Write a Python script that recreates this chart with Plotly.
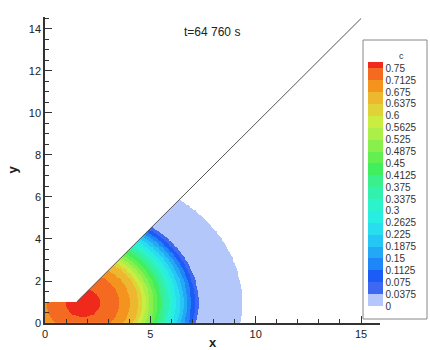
import numpy as np
import plotly.graph_objects as go

# Contour levels of concentration c and their legend labels
levels = [0.0, 0.0375, 0.075, 0.1125, 0.15, 0.1875, 0.225, 0.2625, 0.3, 0.3375,
          0.375, 0.4125, 0.45, 0.4875, 0.525, 0.5625, 0.6, 0.6375, 0.675, 0.7125, 0.75]
level_labels = ["0", "0.0375", "0.075", "0.1125", "0.15", "0.1875", "0.225", "0.2625",
                "0.3", "0.3375", "0.375", "0.4125", "0.45", "0.4875", "0.525", "0.5625",
                "0.6", "0.6375", "0.675", "0.7125", "0.75"]
# One colour per band, lowest band first, last entry is c >= 0.75
band_colors = ["#B4C7FA", "#3F68F2", "#1B5CF6", "#1E86F6", "#22A8F5", "#25C6F4",
               "#27DDEE", "#27EDE2", "#2CF3CC", "#32F1AE", "#3AF08C", "#41EF5E",
               "#63EF50", "#89EF4D", "#ABEF48", "#CBEC41", "#E2D23A", "#EDB72F",
               "#F5931F", "#F36A20", "#EF2A1C"]
c_top = 0.77

# Radial profile of c against (stretched) distance from the source
source_x, source_y = 1.8, 0.95
y_stretch = 1.5
profile_d = [0.0, 0.82, 1.74, 2.24, 2.64, 5.51, 7.58]
profile_c = [0.78, 0.75, 0.7125, 0.675, 0.6375, 0.0375, 0.002]
front_d = 7.58

# Domain geometry: low block of height 1, then the inclined wall
block_height = 1.0
wall_x = [1.5, 15.0]
wall_y = [1.0, 14.5]

# Field on a fine grid
xs = np.arange(0.02, 9.8, 0.04)
ys = np.arange(0.02, 6.5, 0.04)
X, Y = np.meshgrid(xs, ys)
D = np.sqrt((X - source_x) ** 2 + y_stretch * (Y - source_y) ** 2)
C = np.interp(D, profile_d, profile_c)
slope = (wall_y[1] - wall_y[0]) / (wall_x[1] - wall_x[0])
wall_at_x = wall_y[0] + slope * (X - wall_x[0])
outside = (Y > np.maximum(block_height, wall_at_x)) | (D > front_d)
C[outside] = np.nan

# Stepped colour scale, one flat step per band
colorscale = []
for i, col in enumerate(band_colors):
    lo = levels[i] / c_top
    hi = (levels[i + 1] if i + 1 < len(levels) else c_top) / c_top
    colorscale.append([lo, col])
    colorscale.append([hi, col])

font_family = "Liberation Sans, Arial, sans-serif"

fig = go.Figure()
fig.add_trace(go.Heatmap(
    x=xs, y=ys, z=C, zmin=0, zmax=c_top, colorscale=colorscale,
    zsmooth=False, hoverinfo="skip", showscale=True,
    colorbar=dict(
        lenmode="pixels", len=244, thickness=15,
        x=(368 - 45) / 335, xanchor="left", xpad=0,
        y=(323 - 62) / 306, yanchor="top", ypad=0,
        outlinewidth=0, ticks="",
        tickvals=levels, ticktext=level_labels,
        tickfont=dict(family=font_family, size=10, color="#333"),
    ),
))

fig.add_trace(go.Scatter(
    x=wall_x, y=wall_y, mode="lines",
    line=dict(color="#555555", width=1), hoverinfo="skip", showlegend=False,
))

axis_common = dict(
    showgrid=False, zeroline=False, showline=True, linecolor="#333",
    linewidth=1.5, ticks="inside", ticklen=7, tickwidth=1.2, tickcolor="#333",
    tickfont=dict(family=font_family, size=11, color="#222"),
    automargin=False,
)

fig.update_layout(
    width=430, height=350,
    margin=dict(l=45, r=50, t=17, b=27, autoexpand=False),
    paper_bgcolor="white", plot_bgcolor="rgba(0,0,0,0)",
    showlegend=False,
    xaxis=dict(range=[0, 15.9], tick0=0, dtick=5,
               minor=dict(dtick=1, ticks="inside", ticklen=4, tickcolor="#333"),
               title=dict(text="<b>x</b>", standoff=5,
                          font=dict(family=font_family, size=13, color="#222")),
               **axis_common),
    yaxis=dict(range=[0, 14.57], tick0=0, dtick=2,
               minor=dict(dtick=0.5, ticks="inside", ticklen=4, tickcolor="#333"),
               title=dict(text="<b>y</b>", standoff=8,
                          font=dict(family=font_family, size=13, color="#222")),
               **axis_common),
    shapes=[dict(type="rect", xref="paper", yref="paper",
                 x0=(363 - 45) / 335, x1=(427 - 45) / 335,
                 y0=(323 - 319) / 306, y1=(323 - 40) / 306,
                 line=dict(color="#888", width=1), fillcolor="white", layer="below")],
    annotations=[
        dict(text="t=64 760 s", xref="paper", yref="paper",
             x=(212 - 45) / 335, y=(323 - 23) / 306, showarrow=False,
             font=dict(family=font_family, size=12, color="#222")),
        dict(text="c", xref="paper", yref="paper",
             x=(406 - 45) / 335, y=(323 - 49) / 306, showarrow=False,
             font=dict(family=font_family, size=9, color="#333")),
    ],
)

fig.write_html("out.html")
